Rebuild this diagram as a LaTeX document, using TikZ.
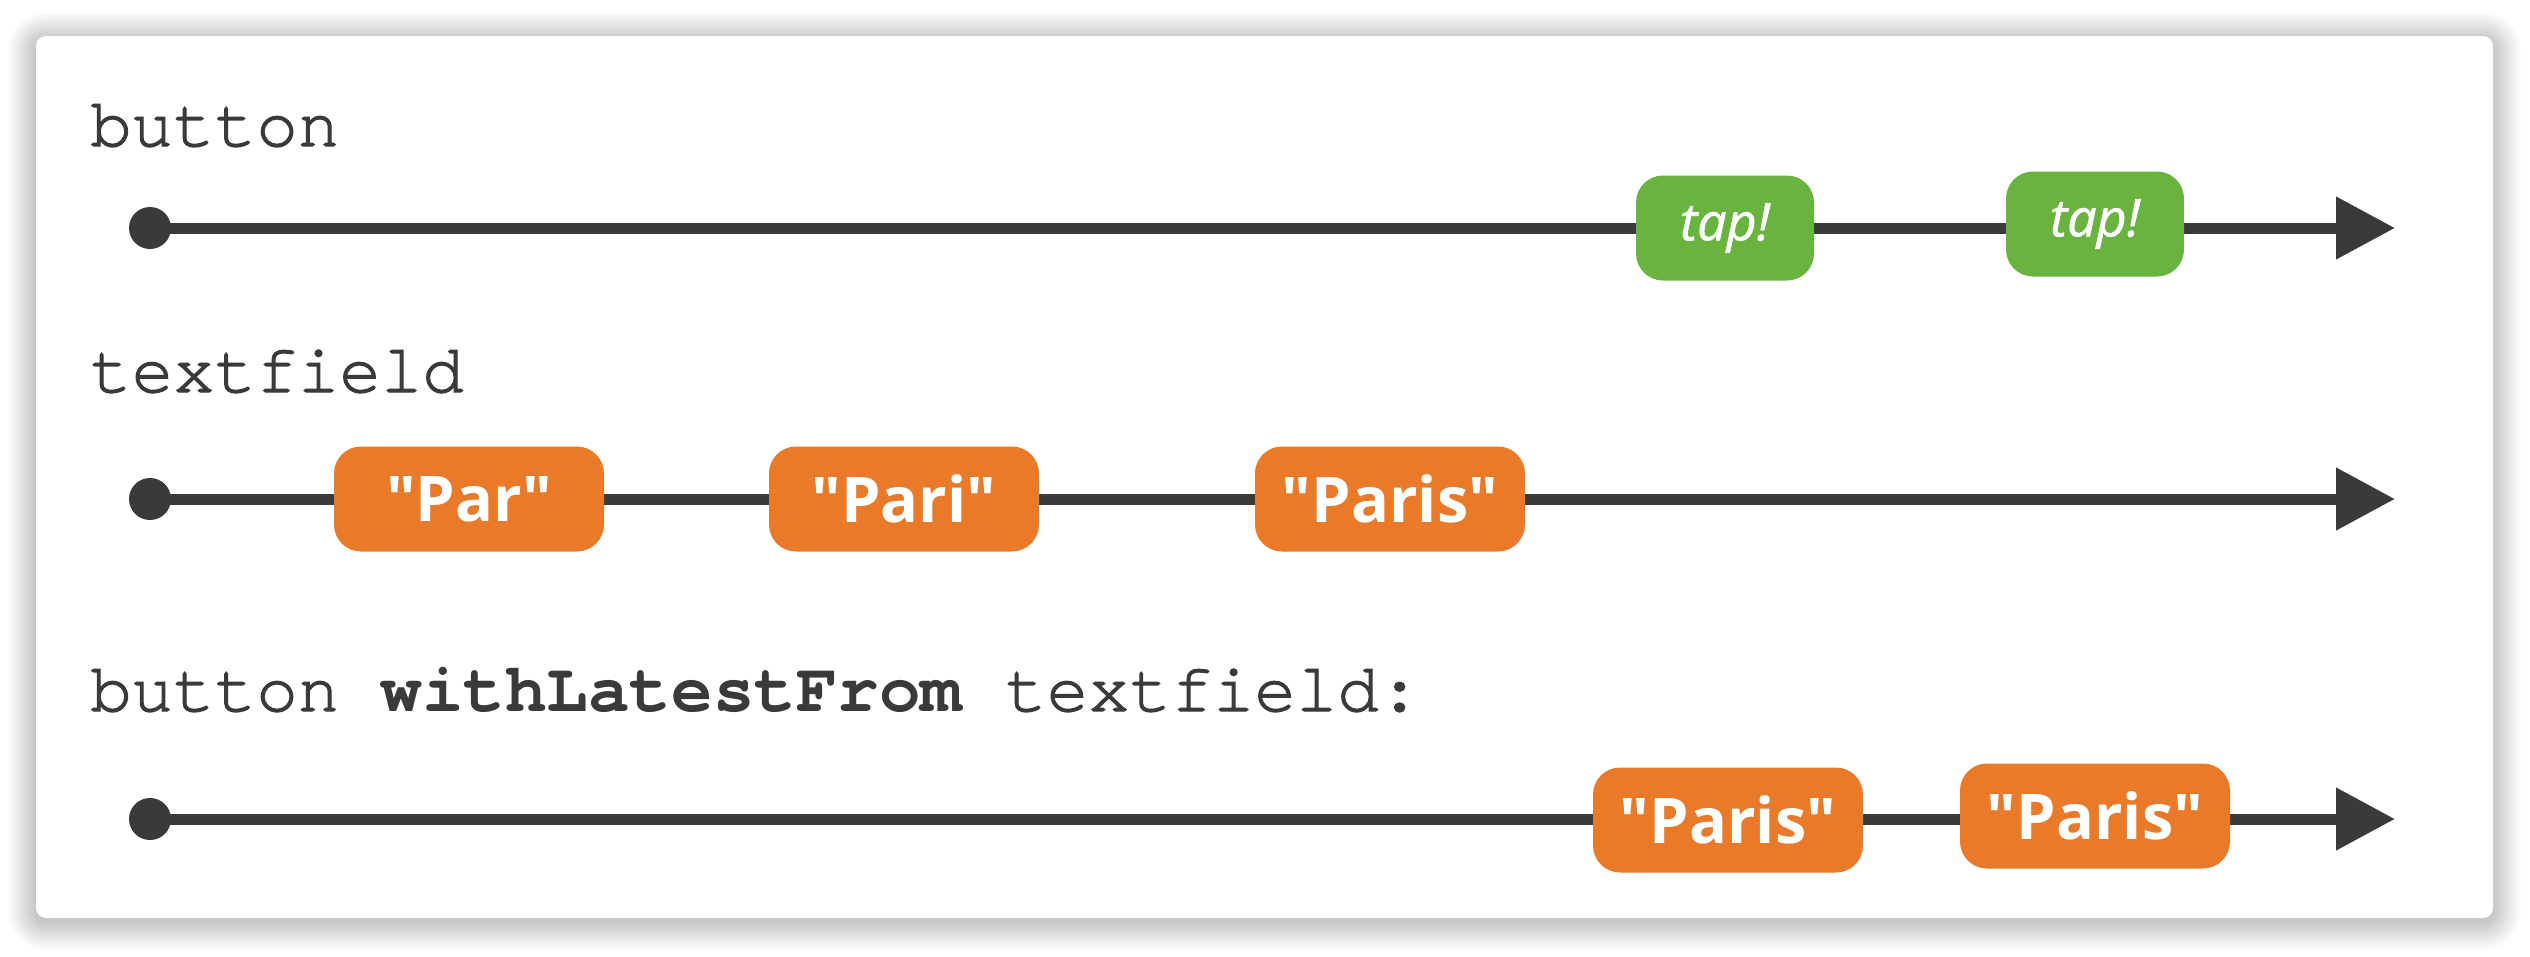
\documentclass[tikz,border=0pt]{standalone}
\usepackage{fontspec}
\setmainfont{Open Sans}
\newfontfamily\monof{TeX Gyre Cursor}[Ligatures={NoCommon,NoRequired}, UprightFeatures={FakeBold=1.6}]
\newfontfamily\tapfont{Open Sans}[ItalicFeatures={FakeBold=1.2}]
\usetikzlibrary{arrows.meta}
\definecolor{linegray}{HTML}{3A3A3A}
\definecolor{tapgreen}{HTML}{68B43F}
\definecolor{evorange}{HTML}{E87A29}
\newcommand\sq{\XeTeXglyph\XeTeXglyphindex "quotedbl" \relax}
\begin{document}
\begin{tikzpicture}[x=1pt,y=-1pt,
  timeline/.style={draw=linegray, line width=11pt, -{Triangle[length=59pt,width=60pt]}},
  startdot/.style={circle, fill=linegray, minimum size=42pt, inner sep=0pt},
  tapbox/.style={fill=tapgreen, rounded corners=27pt, minimum width=178pt, minimum height=105pt, inner sep=0pt, text=white, font=\tapfont\fontsize{52}{60}\selectfont\itshape},
  strbox/.style={fill=evorange, rounded corners=27pt, minimum width=270pt, minimum height=105pt, inner sep=0pt, text=white, font=\fontsize{63}{70}\selectfont\bfseries},
  streamlabel/.style={anchor=base west, inner sep=0pt, text=linegray, font=\monof\fontsize{69.2}{80}\selectfont}
]
\useasboundingbox (0,0) rectangle (2530,956);
\fill[white] (0,0) rectangle (2530,956);
% card shadow
\foreach \i in {1,...,28}{
  \fill[black, opacity=0.009, rounded corners={10+\i}] ({36-\i},{40-\i}) rectangle ({2493+\i},{922+\i});
}
\fill[white, rounded corners=10pt] (36,36) rectangle (2493,918);

% labels
\node[streamlabel] (l1) at (90,146) {button};
\node[streamlabel] (l2) at (90,392) {textfield};
\node[streamlabel] (l3) at (90,711) {button \textbf{withLatestFrom} textfield:};

% row 1
\node[startdot] (d1) at (150,228) {};
\coordinate (e1) at (2395,228);
\draw[timeline] (d1.center) -- (e1);
\node[tapbox] (t1) at (1725,228) {tap!};
\node[tapbox] (t2) at (2095,224) {tap!};

% row 2
\node[startdot] (d2) at (150,499) {};
\coordinate (e2) at (2395,499);
\draw[timeline] (d2.center) -- (e2);
\node[strbox] (s1) at (469,499) {\sq Par\sq};
\node[strbox] (s2) at (904,499) {\sq Pari\sq};
\node[strbox] (s3) at (1390,499) {\sq Paris\sq};

% row 3
\node[startdot] (d3) at (150,819) {};
\coordinate (e3) at (2395,819);
\draw[timeline] (d3.center) -- (e3);
\node[strbox] (r1) at (1728,820) {\sq Paris\sq};
\node[strbox] (r2) at (2095,816) {\sq Paris\sq};
\end{tikzpicture}
\end{document}
